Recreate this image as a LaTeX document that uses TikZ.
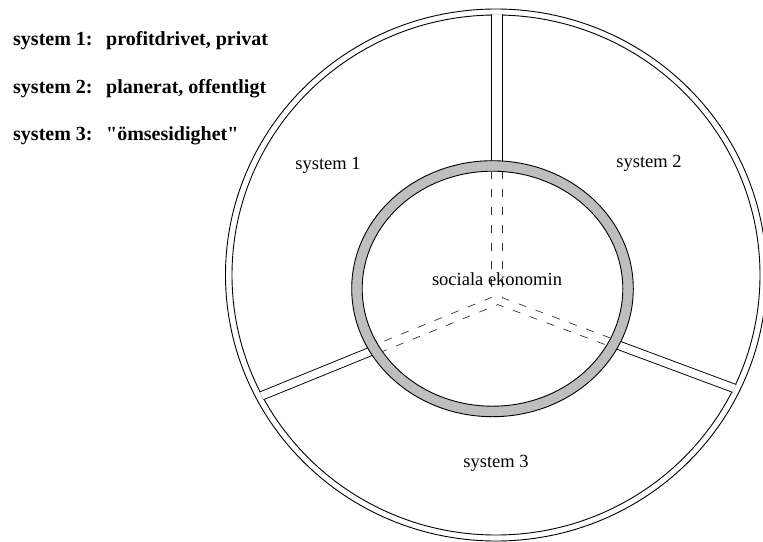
\documentclass[tikz,border=0pt]{standalone}
\usepackage{fontspec}
\setmainfont{Liberation Serif}
\usetikzlibrary{calc}
\begin{document}
\begin{tikzpicture}[x=1pt,y=-1pt,
  ln/.style={line width=0.9pt, black},
  spokeD/.style={line width=0.9pt, draw=black, double=white, double distance=7.6pt},
  dashln/.style={line width=0.7pt, black!80, dash pattern=on 8pt off 10pt},
  legend/.style={inner sep=0pt, font=\fontsize{20}{22}\selectfont\bfseries},
  lbl/.style={inner sep=0pt, font=\fontsize{18.5}{21}\selectfont},
]
\definecolor{ringgray}{RGB}{190,190,190}
\useasboundingbox (0,0) rectangle (763,541);
\fill[white] (0,0) rectangle (763,541);

% centres
\coordinate (O) at (496,275);     % outer circle
\coordinate (R) at (492.5,288.7); % ring
\coordinate (C) at (497,300);     % meeting point of the spokes

% outer double circle
\draw[ln] (O) ellipse [x radius=270.5, y radius=266];
\draw[ln] (O) ellipse [x radius=264, y radius=260];

% spokes (double lines), clipped at the inner line of the outer circle
\begin{scope}
  \clip (O) ellipse [x radius=264.6, y radius=260.6];
  \fill[white] (491.5,0) rectangle (501.5,300);
  \draw[ln] (491,0) -- (491,300);
  \draw[ln] (502,0) -- (502,300);
  \draw[spokeD] (C) -- ++(-0.926*400, 0.377*400);
  \draw[spokeD] (C) -- ++(0.937*400, 0.349*400);
\end{scope}

% grey ring
\fill[white] (R) ellipse [x radius=130.3, y radius=117.5];
\fill[ringgray, even odd rule] (R) ellipse [x radius=140.8, y radius=128]
                               (R) ellipse [x radius=130.3, y radius=117.5];
\draw[ln] (R) ellipse [x radius=140.8, y radius=128];
\draw[ln] (R) ellipse [x radius=130.3, y radius=117.5];

% dashed continuation of the spokes inside the ring
\coordinate (J1) at (491.5,297.4);
\coordinate (J2) at (502.5,297.8);
\coordinate (J3) at (497.8,304.6);
\begin{scope}
  \clip (R) ellipse [x radius=129.8, y radius=117];
  \draw[dashln] (491.5,171) -- (J1) -- ++(-0.926*200, 0.377*200);
  \draw[dashln] (502.5,171) -- (J2) -- ++(0.937*200, 0.349*200);
  \draw[dashln] ($(J3)+(-0.926*200, 0.377*200)$) -- (J3) -- ++(0.937*200, 0.349*200);
\end{scope}

% labels
\node[lbl, anchor=base] (s1) at (328,169) {system 1};
\node[lbl, anchor=base] (s2) at (649,167) {system 2};
\node[lbl, anchor=base] (s3) at (496,467) {system 3};
\node[lbl, anchor=base] (se) at (497,285) {sociala ekonomin};

% legend
\node[legend, anchor=base west] (l1a) at (13,45.5) {system 1:};
\node[legend, anchor=base west] (l1b) at (106,45.5) {profitdrivet, privat};
\node[legend, anchor=base west] (l2a) at (13,93) {system 2:};
\node[legend, anchor=base west] (l2b) at (106,93) {planerat, offentligt};
\node[legend, anchor=base west] (l3a) at (13,140.5) {system 3:};
\node[legend, anchor=base west] (l3b) at (106,140.5) {\textquotedbl ömsesidighet\textquotedbl};
\end{tikzpicture}
\end{document}
